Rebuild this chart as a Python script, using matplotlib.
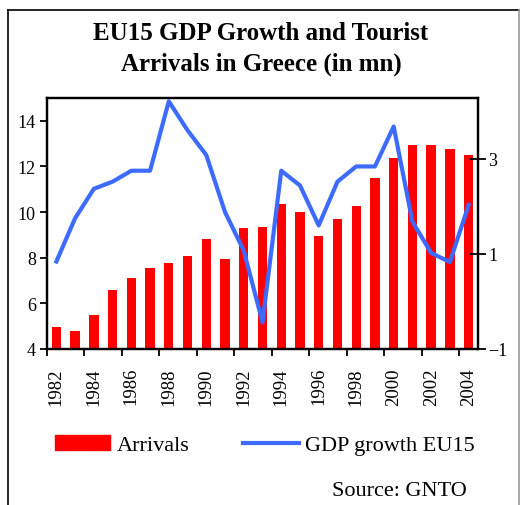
import numpy as np
import matplotlib.pyplot as plt
from matplotlib.lines import Line2D

# Data
years = list(range(1982, 2005))
arrivals = [4.95, 4.78, 5.48, 6.57, 7.09, 7.57, 7.78, 8.09, 8.83, 7.96, 9.30, 9.35,
            10.35, 10.00, 8.96, 9.70, 10.26, 11.48, 12.35, 12.96, 12.96, 12.78, 12.52]
gdp_growth = [0.84, 1.75, 2.37, 2.52, 2.75, 2.75, 4.21, 3.60, 3.08, 1.88, 1.07, -0.44,
              2.75, 2.44, 1.60, 2.52, 2.84, 2.84, 3.68, 1.68, 1.02, 0.83, 2.03]
left_ticks = [4, 6, 8, 10, 12, 14]
right_ticks = [-1, 1, 3]

plt.rcParams['font.family'] = ['Liberation Serif', 'DejaVu Serif']

fig = plt.figure(figsize=(5.2, 5.06), dpi=100)
ax = fig.add_axes([47 / 520, 1 - 350 / 506, 431 / 520, 251 / 506])

x = np.arange(len(years))
bars = ax.bar(x, arrivals, width=0.5, color='#FF0000', zorder=2)
ax.set_xlim(-0.5, len(years) - 0.5)
ax.set_ylim(4, 15)
ax.set_yticks(left_ticks)
ax.tick_params(axis='y', direction='out', length=5, width=1.3, labelsize=13, pad=3)

# x ticks: marks on every second category boundary, labels on even years
ax.set_xticks(np.arange(-0.5, len(years) - 1, 2))
ax.set_xticklabels([])
ax.set_xticks(x[::2], minor=True)
ax.set_xticklabels([str(y) for y in years[::2]], minor=True, rotation=90, fontsize=13.5)
ax.tick_params(axis='x', which='major', direction='out', length=5, width=1.3)
ax.tick_params(axis='x', which='minor', length=0, pad=13)

ax2 = ax.twinx()
line, = ax2.plot(x, gdp_growth, color='#3D6BFF', linewidth=3, solid_joinstyle='round', zorder=3)
ax2.set_ylim(-1, 4.28)
ax2.set_yticks(right_ticks)
ax2.tick_params(axis='y', direction='inout', length=11, width=1.3, labelsize=13, pad=2)

for a in (ax, ax2):
    for s in a.spines.values():
        s.set_linewidth(1.6)
        s.set_color('black')

fig.text(261 / 520, 1 - 22 / 506, 'EU15 GDP Growth and Tourist\nArrivals in Greece (in mn)',
         ha='center', va='top', fontsize=18, fontweight='bold', linespacing=1.4)

handles = [plt.Rectangle((0, 0), 1, 1, color='#FF0000'),
           Line2D([0], [0], color='#3D6BFF', linewidth=3)]
fig.legend(handles, ['Arrivals', 'GDP growth EU15'], loc='center',
           bbox_to_anchor=(265 / 520, 1 - 446 / 506), ncol=2, frameon=False,
           fontsize=16, handlelength=2.5, handleheight=0.65, handletextpad=0.3,
           columnspacing=2.4)

fig.text(467 / 520, 1 - 492 / 506, 'Source: GNTO', ha='right', va='center', fontsize=16)

# outer frame (runs off the bottom of the picture)
fig.add_artist(Line2D([8 / 520, 8 / 520], [0, 1 - 11 / 506], color='black', linewidth=1.2))
fig.add_artist(Line2D([8 / 520, 518.5 / 520], [1 - 11 / 506, 1 - 11 / 506], color='black', linewidth=1.2))
fig.add_artist(Line2D([518.5 / 520, 518.5 / 520], [0, 1 - 11 / 506], color='#999999', linewidth=1.2))

fig.savefig('out.png', dpi=100)
